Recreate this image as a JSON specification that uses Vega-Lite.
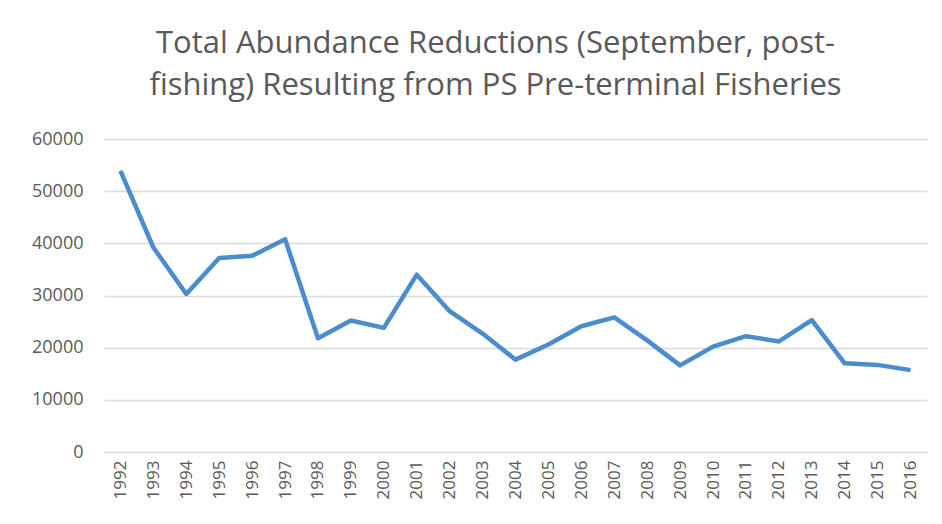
{
  "$schema": "https://vega.github.io/schema/vega-lite/v6.json",
  "width": 823,
  "height": 313,
  "autosize": {"type": "none"},
  "padding": {"left": 104, "top": 139, "right": 15, "bottom": 72},
  "background": "white",
  "title": {
    "text": ["Total Abundance Reductions (September, post-", "fishing) Resulting from PS Pre-terminal Fisheries"],
    "font": "Open Sans",
    "fontSize": 31,
    "fontWeight": "normal",
    "color": "#595959",
    "anchor": "middle",
    "dx": -20,
    "lineHeight": 42,
    "offset": 28
  },
  "data": {
    "values": [
      {"year": "1992", "value": 53900},
      {"year": "1993", "value": 39200},
      {"year": "1994", "value": 30300},
      {"year": "1995", "value": 37200},
      {"year": "1996", "value": 37600},
      {"year": "1997", "value": 40800},
      {"year": "1998", "value": 21800},
      {"year": "1999", "value": 25200},
      {"year": "2000", "value": 23800},
      {"year": "2001", "value": 34000},
      {"year": "2002", "value": 27000},
      {"year": "2003", "value": 22700},
      {"year": "2004", "value": 17700},
      {"year": "2005", "value": 20600},
      {"year": "2006", "value": 24100},
      {"year": "2007", "value": 25800},
      {"year": "2008", "value": 21400},
      {"year": "2009", "value": 16600},
      {"year": "2010", "value": 20200},
      {"year": "2011", "value": 22200},
      {"year": "2012", "value": 21200},
      {"year": "2013", "value": 25300},
      {"year": "2014", "value": 17000},
      {"year": "2015", "value": 16700},
      {"year": "2016", "value": 15700}
    ]
  },
  "mark": {"type": "line", "color": "#4a8ccc", "strokeWidth": 4.5, "strokeJoin": "round"},
  "encoding": {
    "x": {
      "field": "year",
      "type": "ordinal",
      "scale": {"type": "point", "padding": 0.5},
      "axis": {
        "title": null,
        "labelAngle": -90,
        "labelFont": "Open Sans",
        "labelFontSize": 17,
        "labelColor": "#595959",
        "domain": false,
        "ticks": false,
        "labelPadding": 8,
        "grid": false
      }
    },
    "y": {
      "field": "value",
      "type": "quantitative",
      "scale": {"domain": [0, 60000], "nice": false},
      "axis": {
        "title": null,
        "values": [0, 10000, 20000, 30000, 40000, 50000, 60000],
        "format": "d",
        "labelFont": "Open Sans",
        "labelFontSize": 18,
        "labelColor": "#595959",
        "domain": false,
        "ticks": false,
        "labelPadding": 21,
        "gridColor": "#d9d9d9",
        "gridWidth": 1.5
      }
    }
  },
  "config": {"view": {"stroke": null}}
}
